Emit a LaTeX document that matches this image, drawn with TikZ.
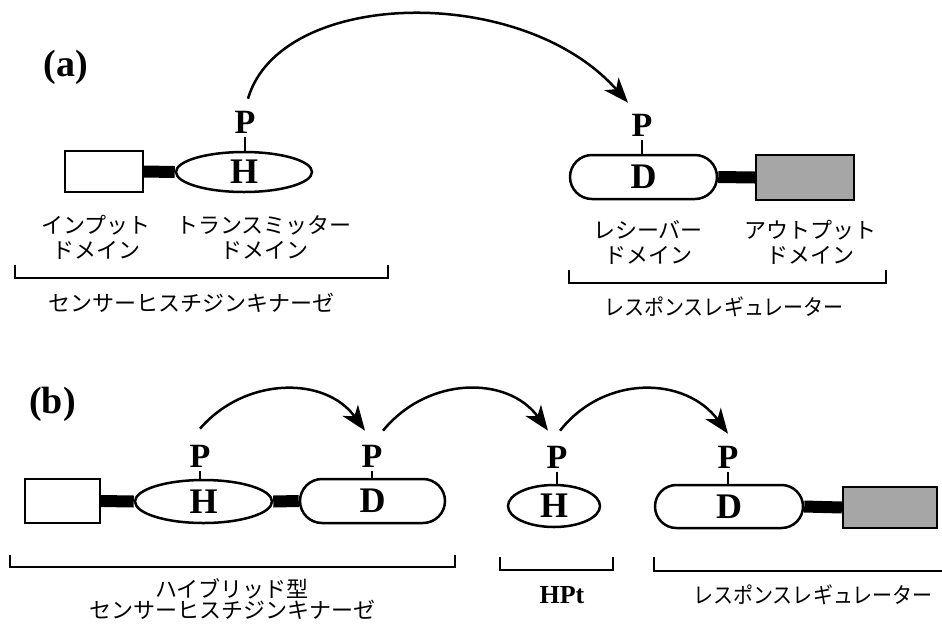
\documentclass[tikz,border=0pt]{standalone}
\usepackage{fontspec}
\setmainfont{Liberation Serif}
\newfontfamily\jp{Noto Sans CJK JP}
\newfontfamily\jpn[FakeStretch=0.91]{Noto Sans CJK JP}
\usetikzlibrary{shapes.geometric,shapes.misc,arrows.meta,backgrounds}
\begin{document}
\begin{tikzpicture}[x=1pt,y=-1pt,
  inbox/.style={draw,line width=2.3pt,fill=white,inner sep=0pt},
  outbox/.style={draw,line width=2.3pt,fill=black!35,inner sep=0pt},
  hdom/.style={ellipse,draw,line width=2.5pt,fill=white,inner sep=0pt,font=\fontsize{36}{36}\selectfont\bfseries},
  ddom/.style={rounded rectangle,draw,line width=2.5pt,fill=white,inner sep=0pt,font=\fontsize{36}{36}\selectfont\bfseries},
  plab/.style={font=\fontsize{34}{34}\selectfont\bfseries,inner sep=4pt},
  tickline/.style={line width=1.8pt},
  linker/.style={line width=12pt},
  arr/.style={line width=2.5pt,-{Stealth[length=25pt,width=19pt,inset=7pt]}},
  bracket/.style={line width=2.8pt},
  lbl/.style={font=\jp\fontsize{22}{25}\selectfont,align=center,inner sep=0pt},
  rrlbl/.style={font=\jpn\fontsize{22}{22}\selectfont,inner sep=0pt},
  panel/.style={font=\fontsize{38}{38}\selectfont\bfseries,inner sep=0pt},
]
\useasboundingbox (0,0) rectangle (942,630);
\begin{scope}[on background layer]
  \fill[white] (0,0) rectangle (942,630);
\end{scope}

% ---------- (a) ----------
\node[panel] (la) at (66,67) {(a)};
\node[inbox,minimum width=78pt,minimum height=41pt] (inA) at (104,171.5) {};
\node[hdom,minimum width=136pt,minimum height=40pt] (hA) at (244,172) {H};
\node[plab] (pA) at (245,122) {P};
\node[ddom,minimum width=147pt,minimum height=44pt] (dA) at (643.5,177) {D};
\node[outbox,minimum width=98pt,minimum height=45pt] (outA) at (805,177.5) {};
\node[plab] (pD) at (642,125) {P};

\begin{scope}[on background layer]
  \draw[linker] (inA.east) -- (hA.west);
  \draw[linker] (dA.east) -- (outA.west);
\end{scope}
\draw[tickline] (pA.south) -- (pA.south |- hA.north);
\draw[tickline] (pD.south) -- (pD.south |- dA.north);

\draw[arr] ([xshift=3pt,yshift=8pt]pA.north) .. controls +(32,-110) and +(-106,-120) .. ([xshift=-14pt,yshift=7pt]pD.north);

\node[lbl] (tInA) at (96,237.5) {インプット\\ドメイン};
\node[lbl] (tTrA) at (264,237.5) {トランスミッター\\ドメイン};
\node[lbl] (tReA) at (648,242) {レシーバー\\ドメイン};
\node[lbl] (tOuA) at (810,242) {アウトプット\\ドメイン};

\draw[bracket] (15,265) |- (388,278) -- (388,265);
\node[lbl] (tSkA) at (191,303) {センサーヒスチジンキナーゼ};
\draw[bracket] (569,270) |- (886,283) -- (886,270);
\node[rrlbl] (tRrA) at (724,307) {レスポンスレギュレーター};

% ---------- (b) ----------
\node[panel] (lb) at (52.5,404) {(b)};
\node[inbox,minimum width=75pt,minimum height=44pt] (inB) at (62.5,501) {};
\node[hdom,minimum width=137pt,minimum height=43pt] (hB1) at (203.5,501.5) {H};
\node[ddom,minimum width=145pt,minimum height=44pt] (dB1) at (372.5,501) {D};
\node[hdom,minimum width=92pt,minimum height=42pt] (hB2) at (554,506) {H};
\node[ddom,minimum width=148pt,minimum height=43pt] (dB2) at (729,506.5) {D};
\node[outbox,minimum width=94pt,minimum height=41pt] (outB) at (890,507.5) {};

\node[plab] (pB1) at (200,456) {P};
\node[plab] (pB2) at (372,456) {P};
\node[plab] (pB3) at (557,457) {P};
\node[plab] (pB4) at (728,457) {P};

\begin{scope}[on background layer]
  \draw[linker] (inB.east) -- (hB1.west);
  \draw[linker] (hB1.east) -- (dB1.west);
  \draw[linker] (dB2.east) -- (outB.west);
\end{scope}
\draw[tickline] (pB1.south) -- (pB1.south |- hB1.north);
\draw[tickline] (pB2.south) -- (pB2.south |- dB1.north);
\draw[tickline] (pB3.south) -- (pB3.south |- hB2.north);
\draw[tickline] (pB4.south) -- (pB4.south |- dB2.north);

\draw[arr] ([yshift=12pt]pB1.north) .. controls +(45,-52) and +(-40,-55) .. ([xshift=-7pt,yshift=10pt]pB2.north);
\draw[arr] ([xshift=11pt,yshift=10pt]pB2.north) .. controls +(45,-55) and +(-40,-55) .. ([xshift=-9pt,yshift=11pt]pB3.north);
\draw[arr] ([xshift=3pt,yshift=11pt]pB3.north) .. controls +(45,-57) and +(-42,-57) .. ([yshift=8pt]pB4.north);

\draw[bracket] (10,555) |- (455,567) -- (455,555);
\draw[bracket] (500,557) |- (613,570) -- (613,557);
\draw[bracket] (654,557) |- (942,571);

\node[lbl,font=\jp\fontsize{22}{21}\selectfont] (tSkB) at (232,599.5) {ハイブリッド型\\センサーヒスチジンキナーゼ};
\node[font=\fontsize{26}{26}\selectfont\bfseries,inner sep=0pt] (tHPt) at (562,595) {HPt};
\node[rrlbl] (tRrB) at (813,595) {レスポンスレギュレーター};
\end{tikzpicture}
\end{document}
